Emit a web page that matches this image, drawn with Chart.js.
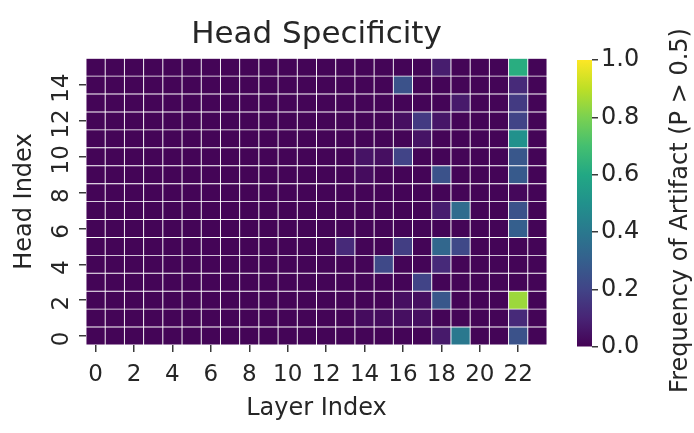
<!DOCTYPE html>
<html>
<head>
<meta charset="utf-8">
<script src="https://cdn.jsdelivr.net/npm/chart.js@4.4.1/dist/chart.umd.min.js"></script>
<style>
  html, body { margin: 0; padding: 0; background: #fff; }
  #wrap { position: relative; width: 694px; height: 433px; overflow: hidden; }
  #heat { position: absolute; left: 0; top: 0; }
  #cbar { position: absolute; left: 560px; top: 0; }
</style>
</head>
<body>
<div id="wrap">
  <canvas id="heat" width="560" height="433"></canvas>
  <canvas id="cbar" width="134" height="433"></canvas>
</div>
<script>
const layers = ['0','1','2','3','4','5','6','7','8','9','10','11','12','13','14','15','16','17','18','19','20','21','22','23'];
const heads = [0,1,2,3,4,5,6,7,8,9,10,11,12,13,14,15];
const cbarTicks = [0, 0.2, 0.4, 0.6, 0.8, 1.0];

// frequency of artifact, one row per head (head 0 first), one value per layer
const freq = [
  [.01,.01,.01,.01,.01,.01,.01,.01,.01,.01,.01,.01,.01,.01,.01,.01,.01,.01,.07,.40,.01,.01,.25,.01],
  [.01,.01,.01,.01,.01,.01,.01,.01,.01,.01,.01,.01,.01,.01,.03,.03,.04,.04,.01,.01,.01,.01,.12,.01],
  [.01,.01,.01,.01,.01,.01,.01,.01,.01,.01,.01,.01,.01,.01,.01,.01,.04,.04,.27,.01,.01,.01,.85,.01],
  [.01,.01,.01,.01,.01,.01,.01,.01,.01,.01,.01,.01,.01,.01,.01,.01,.01,.20,.01,.01,.01,.01,.01,.01],
  [.01,.01,.01,.01,.01,.01,.01,.01,.01,.01,.01,.01,.01,.01,.01,.22,.01,.01,.12,.01,.01,.01,.01,.01],
  [.01,.01,.01,.01,.01,.01,.01,.01,.01,.01,.01,.01,.01,.12,.01,.01,.18,.01,.33,.22,.01,.01,.01,.01],
  [.01,.01,.01,.01,.01,.01,.01,.01,.01,.01,.01,.01,.01,.01,.01,.01,.01,.01,.01,.01,.01,.01,.30,.01],
  [.01,.01,.01,.01,.01,.01,.01,.01,.01,.01,.01,.01,.01,.01,.01,.01,.01,.01,.08,.35,.01,.01,.25,.01],
  [.01,.01,.01,.01,.01,.01,.01,.01,.01,.01,.01,.01,.01,.01,.01,.01,.01,.01,.01,.01,.01,.01,.02,.01],
  [.01,.01,.01,.01,.01,.01,.01,.01,.01,.01,.01,.01,.01,.01,.03,.01,.01,.01,.25,.01,.01,.01,.28,.01],
  [.01,.01,.01,.01,.01,.01,.01,.01,.01,.01,.01,.01,.01,.01,.05,.04,.20,.01,.01,.01,.01,.01,.27,.01],
  [.01,.01,.01,.01,.01,.01,.01,.01,.01,.01,.01,.01,.01,.01,.01,.01,.01,.05,.01,.01,.01,.01,.50,.01],
  [.01,.01,.01,.01,.01,.01,.01,.01,.01,.01,.01,.01,.01,.01,.01,.01,.04,.17,.06,.01,.01,.01,.20,.01],
  [.01,.01,.01,.01,.01,.01,.01,.01,.01,.01,.01,.01,.01,.01,.01,.01,.01,.01,.01,.07,.01,.01,.17,.01],
  [.01,.01,.01,.01,.01,.01,.01,.01,.01,.01,.01,.01,.01,.01,.01,.01,.25,.01,.01,.01,.01,.01,.12,.01],
  [.01,.01,.01,.01,.01,.01,.01,.01,.01,.01,.01,.01,.01,.01,.01,.01,.01,.01,.08,.01,.01,.01,.62,.01]
];

// viridis colormap stops
const viridis = ['#440154','#482475','#414487','#355f8d','#2a788e','#21918c','#22a884','#44bf70','#7ad151','#bddf26','#fde725'];

function hexRgb(h) {
  return [parseInt(h.slice(1,3),16), parseInt(h.slice(3,5),16), parseInt(h.slice(5,7),16)];
}
function cmap(v) {
  v = Math.max(0, Math.min(1, v));
  const p = v * (viridis.length - 1);
  const i = Math.min(Math.floor(p), viridis.length - 2);
  const t = p - i;
  const a = hexRgb(viridis[i]), b = hexRgb(viridis[i+1]);
  const c = a.map((x, k) => Math.round(x + (b[k] - x) * t));
  return 'rgb(' + c.join(',') + ')';
}

Chart.defaults.font.family = "'DejaVu Sans', sans-serif";
Chart.defaults.color = '#262626';
Chart.defaults.animation = false;

const tickCol = '#3a3a3a';
const textCol = '#262626';

new Chart(document.getElementById('heat').getContext('2d'), {
  type: 'bar',
  data: {
    labels: layers,
    datasets: heads.map(h => ({
      label: 'Head ' + h,
      data: layers.map(() => [h, h + 1]),
      backgroundColor: freq[h].map(cmap),
      borderColor: 'rgba(255,255,255,0.42)',
      borderWidth: 0.8,
      borderSkipped: false,
      barPercentage: 1,
      categoryPercentage: 1,
      grouped: false
    }))
  },
  options: {
    responsive: false,
    layout: { padding: { left: 0, right: 13, top: 0, bottom: 0 } },
    plugins: {
      legend: { display: false },
      tooltip: { enabled: false },
      title: {
        display: true,
        fullSize: false,   // centre over the cells, not the whole canvas
        text: 'Head Specificity',
        font: { size: 31, weight: 'normal' },
        color: textCol,
        padding: { top: 16, bottom: 5 }
      }
    },
    scales: {
      x: {
        grid: { display: true, drawOnChartArea: false, offset: false, tickLength: 7, color: tickCol, lineWidth: 1.5 },
        border: { display: false },
        ticks: { autoSkip: false, maxRotation: 0, font: { size: 23 }, padding: 9, color: textCol },
        afterBuildTicks: s => { s.ticks = s.ticks.filter(t => t.value % 2 === 0); },
        afterFit: s => { s.height = 88; },
        title: { display: true, text: 'Layer Index', font: { size: 24 }, color: textCol, padding: { top: 0, bottom: 10 } }
      },
      y: {
        min: 0,
        max: heads.length,
        grid: { display: true, drawOnChartArea: false, tickLength: 7, color: tickCol, lineWidth: 1.5 },
        border: { display: false },
        ticks: {
          minRotation: 90, maxRotation: 90, crossAlign: 'center',
          font: { size: 23 }, padding: 2, labelOffset: 3, color: textCol,
          callback: v => String(v - 0.5)
        },
        afterBuildTicks: s => { s.ticks = heads.filter(h => h % 2 === 0).map(h => ({ value: h + 0.5 })); },
        afterFit: s => { s.width = 86; },
        title: { display: true, text: 'Head Index', font: { size: 24 }, color: textCol, padding: { top: 10, bottom: 0 } }
      }
    }
  }
});

// colorbar label reads bottom to top, so it is drawn here
const cbarLabel = {
  id: 'cbarLabel',
  afterDraw(chart, args, opts) {
    const { ctx, chartArea } = chart;
    ctx.save();
    ctx.font = '24px "DejaVu Sans", sans-serif';
    ctx.fillStyle = textCol;
    ctx.textAlign = 'center';
    ctx.textBaseline = 'middle';
    ctx.translate(opts.x, (chartArea.top + chartArea.bottom) / 2 + opts.dy);
    ctx.rotate(-Math.PI / 2);
    ctx.fillText(opts.text, 0, 0);
    ctx.restore();
  }
};

new Chart(document.getElementById('cbar').getContext('2d'), {
  type: 'bar',
  data: {
    labels: [''],
    datasets: [{
      data: [[cbarTicks[0], cbarTicks[cbarTicks.length - 1]]],
      backgroundColor: ctx => {
        const area = ctx.chart.chartArea;
        if (!area) return viridis[0];
        const g = ctx.chart.ctx.createLinearGradient(0, area.bottom, 0, area.top);
        viridis.forEach((c, i) => g.addColorStop(i / (viridis.length - 1), c));
        return g;
      },
      borderWidth: 0,
      barPercentage: 1,
      categoryPercentage: 1
    }]
  },
  plugins: [cbarLabel],
  options: {
    responsive: false,
    layout: { padding: { left: 17, right: 0, top: 60, bottom: 86 } },
    plugins: {
      legend: { display: false },
      tooltip: { enabled: false },
      cbarLabel: { text: 'Frequency of Artifact (P > 0.5)', x: 121, dy: 7 }
    },
    scales: {
      x: { display: false },
      y: {
        position: 'right',
        min: 0,
        max: 1,
        grid: { display: true, drawOnChartArea: false, tickLength: 6, color: tickCol, lineWidth: 1.5 },
        border: { display: false },
        ticks: { font: { size: 24 }, padding: 3, color: textCol, callback: v => v.toFixed(1) },
        afterBuildTicks: s => { s.ticks = cbarTicks.map(v => ({ value: v })); },
        afterFit: s => { s.width = 102; }
      }
    }
  }
});
</script>
</body>
</html>
